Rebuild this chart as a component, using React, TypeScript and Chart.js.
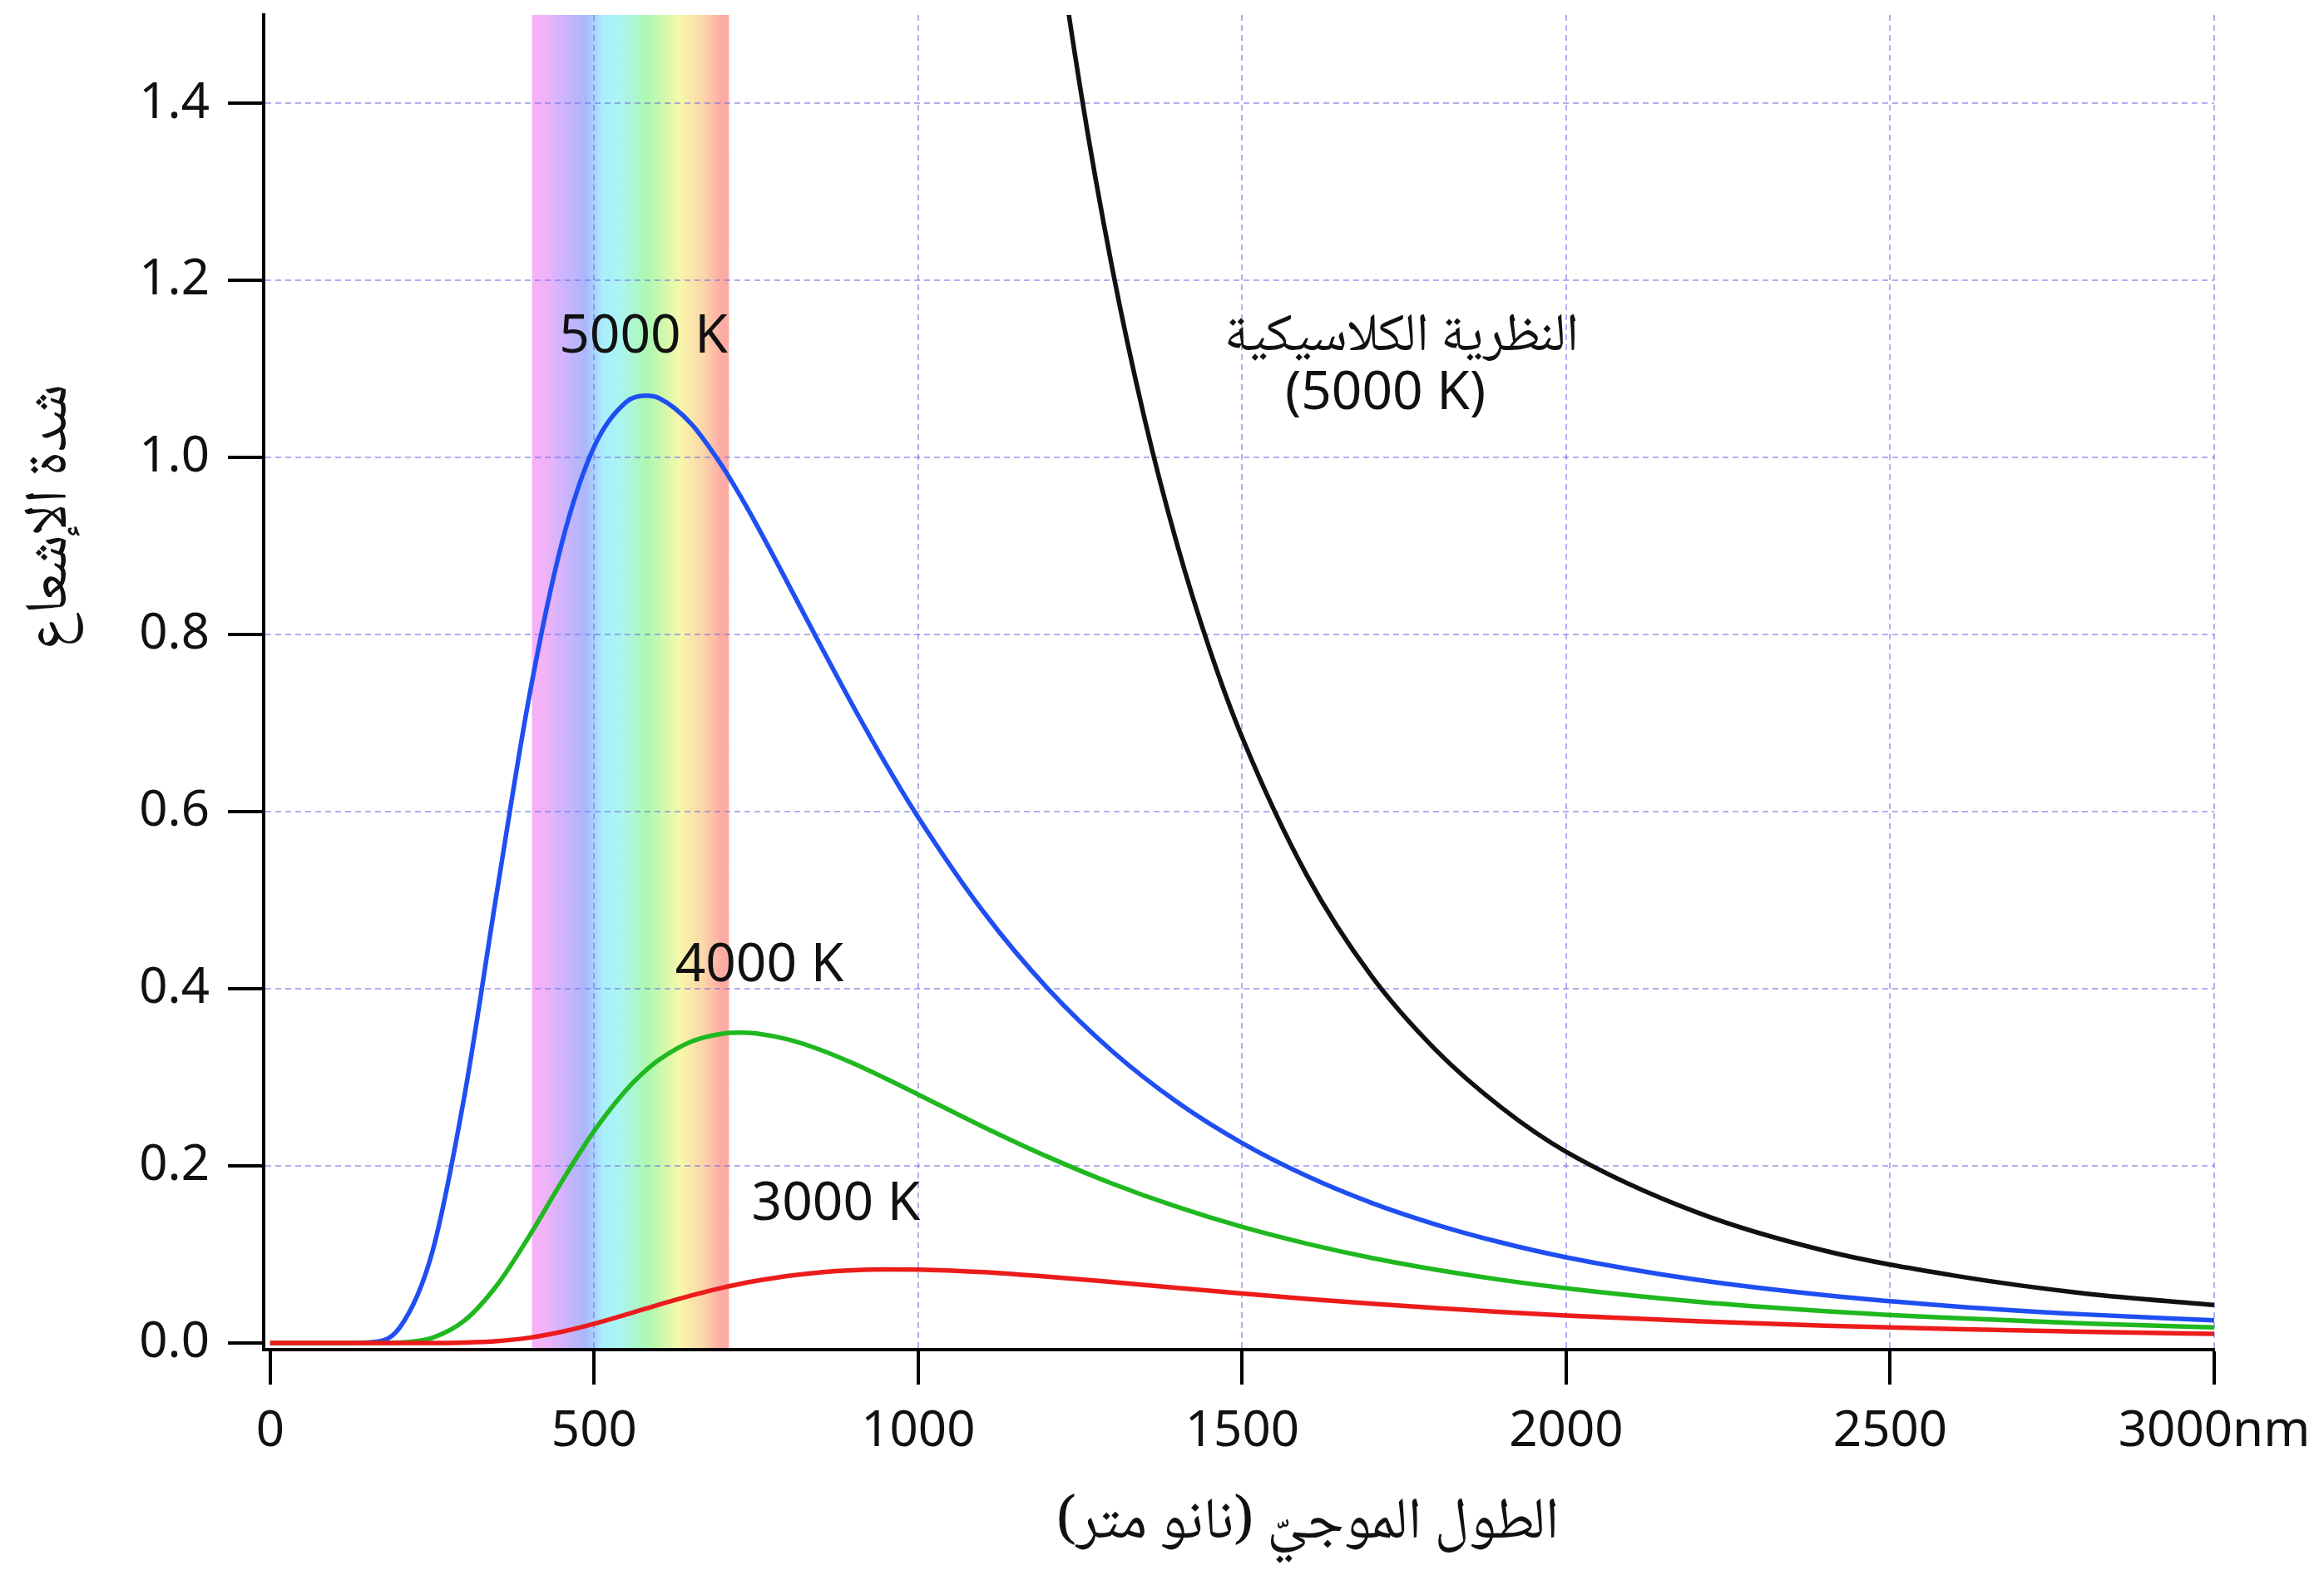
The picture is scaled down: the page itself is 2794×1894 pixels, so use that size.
import React, { useEffect, useRef } from "react";
import { Chart, registerables } from "chart.js";

Chart.register(...registerables);

// ---------- data ----------
const wavelengthsNm = [0, 100, 150, 200, 250, 300, 350, 400, 450, 500, 550, 580, 600, 650, 700, 725, 750, 800, 850, 900, 950, 1000, 1100, 1200, 1300, 1400, 1500, 1600, 1700, 1800, 1900, 2000, 2200, 2400, 2600, 2800, 3000];
const planck5000K = [0, 0, 0.0006, 0.0176, 0.1022, 0.2799, 0.5098, 0.7311, 0.9031, 1.0124, 1.0631, 1.07, 1.0672, 1.0381, 0.9877, 0.9574, 0.925, 0.8565, 0.7868, 0.7188, 0.6541, 0.5939, 0.4877, 0.4002, 0.3292, 0.2719, 0.2258, 0.1885, 0.1582, 0.1336, 0.1134, 0.0968, 0.0716, 0.054, 0.0414, 0.0323, 0.0255];
const planck4000K = [0, 0, 0, 0.0005, 0.0058, 0.0254, 0.0653, 0.121, 0.1823, 0.2396, 0.2863, 0.3081, 0.3199, 0.3405, 0.3497, 0.3507, 0.3497, 0.3427, 0.3309, 0.3158, 0.2987, 0.2807, 0.2443, 0.2103, 0.1799, 0.1536, 0.1311, 0.1122, 0.0961, 0.0827, 0.0713, 0.0618, 0.0468, 0.036, 0.0281, 0.0222, 0.0177];
const planck3000K = [0, 0, 0, 0, 0, 0.0005, 0.0021, 0.006, 0.0127, 0.0218, 0.0323, 0.0389, 0.0433, 0.0536, 0.0628, 0.0667, 0.0702, 0.0759, 0.0799, 0.0822, 0.0832, 0.083, 0.0801, 0.0749, 0.0688, 0.0623, 0.0559, 0.0499, 0.0444, 0.0395, 0.035, 0.0311, 0.0246, 0.0196, 0.0157, 0.0127, 0.0104];
const classicalNm = [1150, 1200, 1250, 1300, 1350, 1400, 1450, 1500, 1600, 1700, 1800, 1900, 2000, 2200, 2400, 2600, 2800, 3000];
const classical5000K = [1.979, 1.669, 1.418, 1.212, 1.042, 0.901, 0.783, 0.684, 0.528, 0.414, 0.33, 0.266, 0.216, 0.148, 0.104, 0.076, 0.056, 0.043];

const xTickValues = [0, 500, 1000, 1500, 2000, 2500, 3000];
const yTickValues = [0, 0.2, 0.4, 0.6, 0.8, 1.0, 1.2, 1.4];
const visibleBandNm = [404, 708];

const curveLabelTexts = ["3000 K", "4000 K", "5000 K"];
const curveLabelNm = [873, 755, 576];
const curveLabelValue = [0.156, 0.4256, 1.136];

const classicalTitle = "النظرية الكلاسيكية";
const classicalSubtitle = "(5000 K)";
const xAxisTitle = "الطول الموجيّ (نانو متر)";
const yAxisTitle = "شدة الإشعاع";
const xUnit = "nm";

// ---------- styles ----------
const W = 2794;
const H = 1894;
const LATIN = "'Noto Sans', 'Open Sans', sans-serif";
const ARABIC = "'Noto Naskh Arabic', 'Noto Sans Arabic', 'DejaVu Sans', sans-serif";
const TICK_SIZE = 60;
const TEXT = "#111111";
const GRID = "rgba(110,110,230,0.55)";
const spectrumStops: [number, string][] = [
  [0.0, "#f6b2f8"],
  [0.06, "#f2b2f8"],
  [0.18, "#c8b4fc"],
  [0.27, "#aab6fc"],
  [0.36, "#aaeefc"],
  [0.44, "#aaf4f4"],
  [0.59, "#aef8b0"],
  [0.75, "#f6f8aa"],
  [0.87, "#fcd6aa"],
  [0.96, "#fcaca4"],
  [1.0, "#fcaaa4"],
];

function fitFont(ctx: CanvasRenderingContext2D, text: string, family: string, target: number, base: number, lo: number, hi: number) {
  ctx.font = `${base}px ${family}`;
  const w = ctx.measureText(text).width || target;
  const size = Math.max(lo, Math.min(hi, (base * target) / w));
  return `${size}px ${family}`;
}

const spectrumPlugin = {
  id: "spectrumBand",
  beforeDraw(chart: any) {
    const { ctx, chartArea, scales } = chart;
    ctx.save();
    ctx.fillStyle = "#ffffff";
    ctx.fillRect(0, 0, chart.width, chart.height);
    const x0 = scales.x.getPixelForValue(visibleBandNm[0]);
    const x1 = scales.x.getPixelForValue(visibleBandNm[1]);
    const g = ctx.createLinearGradient(x0, 0, x1, 0);
    spectrumStops.forEach(([p, c]) => g.addColorStop(p, c));
    ctx.fillStyle = g;
    ctx.fillRect(x0, chartArea.top, x1 - x0, chartArea.bottom - chartArea.top);
    ctx.restore();
  },
};

const textPlugin = {
  id: "texts",
  afterDraw(chart: any) {
    const { ctx, scales } = chart;
    const xs = scales.x;
    const ys = scales.y;
    ctx.save();
    ctx.fillStyle = TEXT;
    ctx.textAlign = "center";
    ctx.textBaseline = "middle";

    // curve labels
    ctx.font = `64px ${LATIN}`;
    curveLabelTexts.forEach((t, i) => {
      ctx.fillText(t, xs.getPixelForValue(curveLabelNm[i]), ys.getPixelForValue(curveLabelValue[i]));
    });

    // classical theory label
    ctx.save();
    ctx.direction = "rtl";
    ctx.font = fitFont(ctx, classicalTitle, ARABIC, 426, 60, 44, 70);
    ctx.fillText(classicalTitle, xs.getPixelForValue(1746), ys.getPixelForValue(1.1407) + 12);
    ctx.restore();
    ctx.font = `64px ${LATIN}`;
    ctx.fillText(classicalSubtitle, xs.getPixelForValue(1721), ys.getPixelForValue(1.072));

    // x axis title
    ctx.save();
    ctx.direction = "rtl";
    ctx.textAlign = "center";
    ctx.font = fitFont(ctx, xAxisTitle, ARABIC, 650, 56, 40, 70);
    ctx.fillText(xAxisTitle, 1572, 1840);
    ctx.restore();

    // y axis title (rotated)
    ctx.save();
    ctx.translate(70, 622);
    ctx.rotate(-Math.PI / 2);
    ctx.direction = "rtl";
    ctx.textAlign = "center";
    ctx.font = fitFont(ctx, yAxisTitle, ARABIC, 324, 60, 40, 72);
    ctx.fillText(yAxisTitle, 0, 0);
    ctx.restore();

    ctx.restore();
  },
};

function toPoints(xs: number[], ys: number[]) {
  return xs.map((x, i) => ({ x, y: ys[i] }));
}

export default function App() {
  const ref = useRef<HTMLCanvasElement | null>(null);

  useEffect(() => {
    document.body.style.margin = "0";
    document.body.style.overflow = "hidden";
    const canvas = ref.current;
    if (!canvas) return;
    const lineDefaults = {
      borderWidth: 5.5,
      pointRadius: 0,
      fill: false,
      cubicInterpolationMode: "monotone" as const,
    };
    const lastX = xTickValues[xTickValues.length - 1];
    const chart = new Chart(canvas, {
      type: "line",
      data: {
        datasets: [
          { ...lineDefaults, label: "3000 K", data: toPoints(wavelengthsNm, planck3000K), borderColor: "#ec1c1c" },
          { ...lineDefaults, label: "4000 K", data: toPoints(wavelengthsNm, planck4000K), borderColor: "#1fb81f" },
          { ...lineDefaults, label: "5000 K", data: toPoints(wavelengthsNm, planck5000K), borderColor: "#1f4ff2" },
          { ...lineDefaults, label: "classical", data: toPoints(classicalNm, classical5000K), borderColor: "#111111" },
        ],
      },
      options: {
        responsive: false,
        maintainAspectRatio: false,
        devicePixelRatio: 1,
        animation: false,
        events: [],
        layout: { autoPadding: false, padding: { left: 0, top: 18, right: 132, bottom: 0 } },
        plugins: { legend: { display: false }, tooltip: { enabled: false }, title: { display: false } },
        scales: {
          x: {
            type: "linear",
            min: -10,
            max: 3000,
            afterBuildTicks: (scale: any) => {
              scale.ticks = xTickValues.map((v) => ({ value: v }));
            },
            afterFit: (scale: any) => {
              scale.height = H - 1623;
              scale.paddingLeft = 0;
              scale.paddingRight = 0;
              scale.paddingTop = 0;
              scale.paddingBottom = 0;
            },
            ticks: {
              autoSkip: false,
              maxRotation: 0,
              padding: 21,
              color: TEXT,
              font: { family: LATIN, size: TICK_SIZE },
              callback: (v: any) => (Number(v) === lastX ? `${v}${xUnit}` : String(v)),
            },
            grid: {
              color: (c: any) => (c.tick && c.tick.value === 0 ? "rgba(0,0,0,0)" : GRID),
              lineWidth: 2,
              tickLength: 42,
              tickColor: "#000000",
              tickWidth: 4,
            },
            border: { display: true, color: "#000000", width: 4, dash: [7, 5] },
          },
          y: {
            type: "linear",
            min: -0.0075,
            max: 1.5,
            afterBuildTicks: (scale: any) => {
              scale.ticks = yTickValues.map((v) => ({ value: v }));
            },
            afterFit: (scale: any) => {
              scale.width = 317;
              scale.paddingLeft = 0;
              scale.paddingRight = 0;
              scale.paddingTop = 0;
              scale.paddingBottom = 0;
            },
            ticks: {
              autoSkip: false,
              padding: 22,
              color: TEXT,
              font: { family: LATIN, size: TICK_SIZE },
              callback: (v: any) => Number(v).toFixed(1),
            },
            grid: {
              color: (c: any) => (c.tick && c.tick.value === 0 ? "rgba(0,0,0,0)" : GRID),
              lineWidth: 2,
              tickLength: 43,
              tickColor: "#000000",
              tickWidth: 4,
            },
            border: { display: true, color: "#000000", width: 4, dash: [7, 5] },
          },
        },
      },
      plugins: [spectrumPlugin, textPlugin],
    } as any);
    return () => chart.destroy();
  }, []);

  return (
    <div style={{ position: "absolute", left: 0, top: 0, width: W, height: H, background: "#fff" }}>
      <canvas ref={ref} width={W} height={H} style={{ display: "block", width: W, height: H }} />
    </div>
  );
}
